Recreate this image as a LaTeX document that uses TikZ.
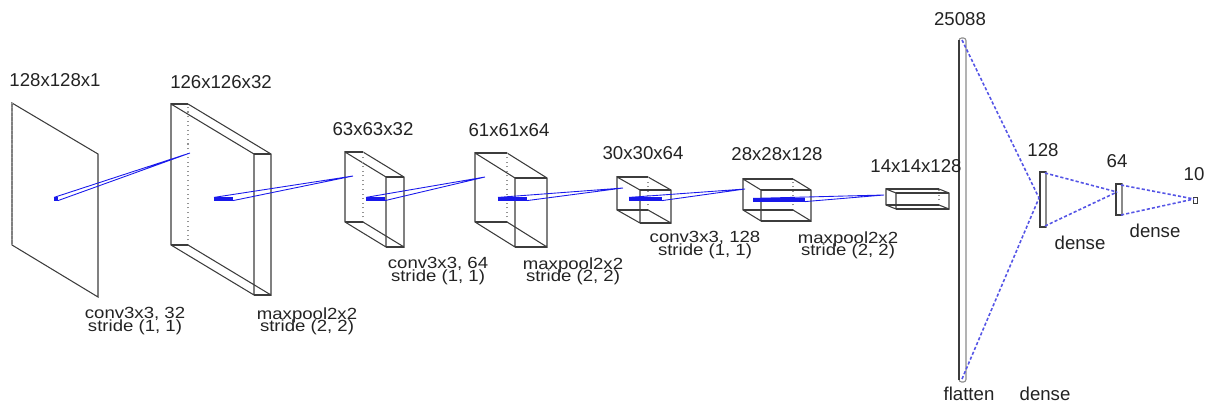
\documentclass[tikz,border=0pt]{standalone}
\usepackage{graphicx}
\usepackage{fontspec}
\setmainfont{Liberation Sans}
\usetikzlibrary{calc}
\definecolor{edgec}{RGB}{60,60,60}
\definecolor{convblue}{RGB}{25,25,235}
\definecolor{denseblue}{RGB}{85,85,230}
\definecolor{txt}{RGB}{35,35,35}
\newcommand{\tightskip}{\lineskiplimit=-20pt\relax\lineskip=0pt\relax}
\tikzset{
  edge/.style={draw=edgec, line width=0.6pt},
  hid/.style={draw=edgec!55, line width=0.6pt, dotted},
  patch/.style={draw=convblue, line width=2.2pt},
  cone/.style={draw=convblue, line width=0.5pt},
  fclink/.style={draw=denseblue, line width=0.9pt, dash pattern=on 1.8pt off 1.2pt},
  dimlab/.style={font=\fontsize{10.6}{12}\selectfont, text=txt, inner sep=0pt, anchor=base},
  sublab/.style={font=\fontsize{9.2}{7}\selectfont\tightskip,
    text=txt, inner sep=0pt, align=center, anchor=center},
}
\newcommand{\cnnbox}[7]{%
  \coordinate (#1a) at (#2,#3);
  \coordinate (#1b) at ({#2+#4},{#3+#5});
  \coordinate (#1c) at ({#2+#4},{#3+#5+#6});
  \coordinate (#1e) at (#2,{#3+#6});
  \coordinate (#1A) at ({#2+#7},#3);
  \coordinate (#1B) at ({#2+#4+#7},{#3+#5});
  \coordinate (#1C) at ({#2+#4+#7},{#3+#5+#6});
  \coordinate (#1E) at ({#2+#7},{#3+#6});
  \draw[edge] (#1a)--(#1b)--(#1c)--(#1e)--cycle;
  \draw[edge] (#1A)--(#1B)--(#1C)--(#1E);
  \draw[hid] (#1E)--(#1A);
  \draw[edge] (#1a)--(#1A) (#1b)--(#1B) (#1c)--(#1C) (#1e)--(#1E);
}
\newcommand{\twolab}[5]{% name, x, first baseline, line1, line2
  \node[sublab] (#1) at (#2,{#3+2}) {\scalebox{1.15}[1]{#4}\\ \scalebox{1.15}[1]{#5}};
}
\newcommand{\convlink}[4]{% name, patch start, patch end, target
  \draw[patch] (#2)--(#3);
  \draw[cone] ($(#2)+(0,-1.6)$)--(#4)--($(#3)+(0,1.6)$);
}
\begin{document}
\begin{tikzpicture}[x=0.02cm, y=-0.02cm]
\useasboundingbox (0,0) rectangle (1209,405);

% input plane
\coordinate (L1a) at (12,103);
\coordinate (L1b) at (98,154);
\coordinate (L1c) at (98,297);
\coordinate (L1e) at (12,245);
\draw[edge] (L1e)--(L1a)--(L1b)--(L1c)--(L1e);
\draw[hid] (L1e)--(L1a);

% feature maps
\cnnbox{L2}{171}{104}{83}{50}{141}{17}
\cnnbox{L3}{345}{152}{41}{25}{70}{18}
\cnnbox{L4}{475}{153}{40}{25}{69}{32}
\cnnbox{L5}{617}{177}{23}{13}{33}{31}
\cnnbox{L6}{743}{179}{18}{11}{31}{50}
\cnnbox{L7}{886}{189}{10}{4}{16}{53}

% convolution / pooling links
\coordinate (p1) at (54,199); \coordinate (p1e) at (58,199); \coordinate (q1) at (190,153);
\coordinate (p2) at (214,199); \coordinate (p2e) at (233,199); \coordinate (q2) at (353,176);
\coordinate (p3) at (366,199); \coordinate (p3e) at (385,199); \coordinate (q3) at (485,177);
\coordinate (p4) at (498,199); \coordinate (p4e) at (527,199); \coordinate (q4) at (623,188);
\coordinate (p5) at (629,199); \coordinate (p5e) at (662,199); \coordinate (q5) at (745,189);
\coordinate (p6) at (753,200); \coordinate (p6e) at (805,200); \coordinate (q6) at (884,195);
\convlink{c1}{p1}{p1e}{q1}
\convlink{c2}{p2}{p2e}{q2}
\convlink{c3}{p3}{p3e}{q3}
\convlink{c4}{p4}{p4e}{q4}
\convlink{c5}{p5}{p5e}{q5}
\convlink{c6}{p6}{p6e}{q6}

% dense part
\coordinate (fTop) at (962,40);
\coordinate (fBot) at (962,379);
\draw[draw=edgec!60, line width=0.6pt, rounded corners=1.5pt] (959,38) rectangle (966,382);
\draw[edge, line width=0.8pt] (959,40)--(959,380);
\coordinate (d1in) at (1039,198);
\coordinate (d1t) at (1045,173);
\coordinate (d1b) at (1045,226);
\draw[draw=edgec!60, line width=0.6pt] (1040,172) rectangle (1046,227);
\draw[edge, line width=0.9pt] (1046,172)--(1040,172)--(1040,227)--(1046,227);
\coordinate (d2in) at (1117,192);
\coordinate (d2t) at (1121,185);
\coordinate (d2b) at (1121,215);
\draw[draw=edgec!60, line width=0.6pt] (1116,184) rectangle (1122,215);
\draw[edge, line width=0.9pt] (1122,184)--(1116,184)--(1116,215)--(1122,215);
\coordinate (outin) at (1194,199);
\draw[edge, line width=0.5pt] (1193,197) rectangle (1197,203);

\draw[fclink] (fTop)--(d1in);
\draw[fclink] (fBot)--(d1in);
\draw[fclink] (d1t)--(d2in);
\draw[fclink] (d1b)--(d2in);
\draw[fclink] (d2t)--(outin);
\draw[fclink] (d2b)--(outin);

% size labels
\node[dimlab] (s1) at (55,87) {128x128x1};
\node[dimlab] (s2) at (221,89) {126x126x32};
\node[dimlab] (s3) at (373,136) {63x63x32};
\node[dimlab] (s4) at (509,137) {61x61x64};
\node[dimlab] (s5) at (643,160) {30x30x64};
\node[dimlab] (s6) at (777,161) {28x28x128};
\node[dimlab] (s7) at (916,173) {14x14x128};
\node[dimlab] (s8) at (960,26) {25088};
\node[dimlab] (s9) at (1043,157) {128};
\node[dimlab] (s10) at (1117,168) {64};
\node[dimlab] (s11) at (1194,181) {10};

% operation labels
\twolab{o1}{135}{319}{conv3x3, 32}{stride (1, 1)}
\twolab{o2}{307}{319}{maxpool2x2}{stride (2, 2)}
\twolab{o3}{438}{269}{conv3x3, 64}{stride (1, 1)}
\twolab{o4}{573}{269}{maxpool2x2}{stride (2, 2)}
\twolab{o5}{705}{243}{conv3x3, 128}{stride (1, 1)}
\twolab{o6}{848}{243}{maxpool2x2}{stride (2, 2)}
\node[dimlab] (f1) at (969,400) {flatten};
\node[dimlab] (f2) at (1045,400) {dense};
\node[dimlab] (f3) at (1080,249) {dense};
\node[dimlab] (f4) at (1155,237) {dense};
\end{tikzpicture}
\end{document}
